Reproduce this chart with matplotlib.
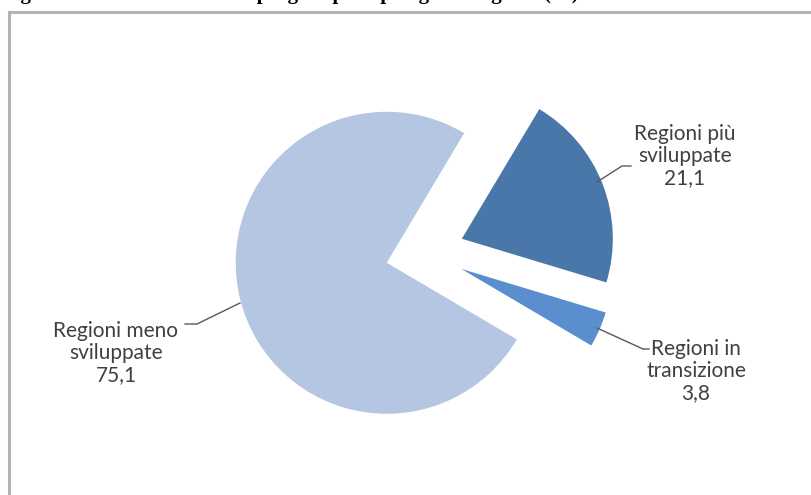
import matplotlib.pyplot as plt
from matplotlib.patches import Rectangle

# data
labels = ["Regioni in\ntransizione", "Regioni più\nsviluppate", "Regioni meno\nsviluppate"]
values = [3.8, 21.1, 75.1]
colors = ["#5a8ecf", "#4a77a9", "#b4c6e2"]

W, H = 812, 495
fig = plt.figure(figsize=(W / 100, H / 100), dpi=100)
ax = fig.add_axes([0, 0, 1, 1])

# pie in pixel coords (y up)
cx, cy, r = 425, H - 253, 151
ax.pie(values, colors=colors, startangle=-30.5, counterclock=True,
       center=(cx, cy), radius=r, explode=[39.5] * 3,
       wedgeprops=dict(linewidth=0))
ax.set_xlim(0, W)
ax.set_ylim(0, H)
ax.set_aspect("equal")
ax.axis("off")

# labels with leader lines
txt = dict(ha="center", va="center", fontsize=15, color="#404040",
           family=["Lato", "DejaVu Sans"], linespacing=1.15)
vals_txt = [("%.1f" % v).replace(".", ",") for v in values]

ax.text(696, H - 371, labels[0] + "\n" + vals_txt[0], **txt)
ax.plot([597, 643, 649], [H - 328, H - 349, H - 349], color="#595959", lw=1)

ax.text(685, H - 156, labels[1] + "\n" + vals_txt[1], **txt)
ax.plot([597, 622, 631], [H - 182, H - 166, H - 166], color="#595959", lw=1)

ax.text(116, H - 353, labels[2] + "\n" + vals_txt[2], **txt)
ax.plot([185, 197, 240], [H - 324, H - 324, H - 303], color="#595959", lw=1)

# frame of the chart area (cut at right and bottom)
fig.patches.append(Rectangle((9.5 / W, -0.1), 1.1, (H - 12) / H + 0.1,
                             transform=fig.transFigure, fill=False,
                             edgecolor="#b3b3b3", lw=2.2))

# title, cut off at the top of the image as in the source
fig.text(2 / W, 1 + 1.5 / H,
         "Figura 3 – Distribuzione dei progetti per tipologia di regione (%)",
         ha="left", va="baseline", fontsize=15, fontweight="bold",
         family="Liberation Serif", color="black")

fig.savefig("out.png", dpi=100)
